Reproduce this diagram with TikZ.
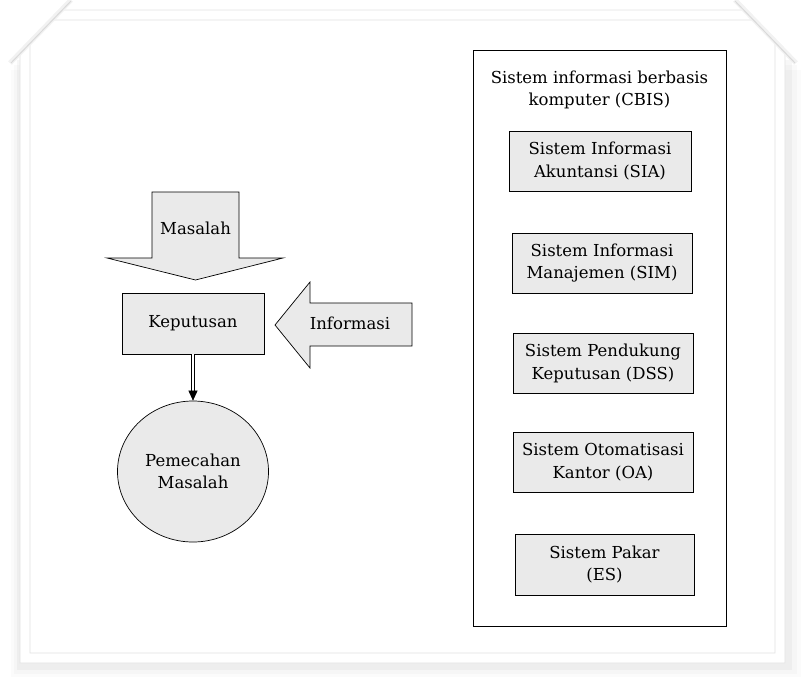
\documentclass[tikz,border=0pt]{standalone}
\usepackage{fontspec}
\setmainfont{DejaVu Serif}
\usetikzlibrary{arrows.meta, positioning, shapes.geometric}
\definecolor{boxgray}{HTML}{EAEAEA}
\definecolor{framegray}{HTML}{E2E2E2}
\tikzset{
	txt/.style={font=\fontsize{16.5}{22.5}\selectfont, align=center, inner sep=0pt},
	sysbox/.style={txt, draw, fill=boxgray, line width=0.8pt, minimum width=180pt, minimum height=60pt},
	bigarrow/.style={draw, fill=boxgray, line width=0.7pt, line join=miter},
}

\begin{document}
\begin{tikzpicture}[x=1pt,y=-1pt]
	\useasboundingbox (0,0) rectangle (806,678);
	% photo frame and its shadow
	\fill[black, opacity=0.015] (11,70) rectangle (801,677);
	\fill[black, opacity=0.02] (14,65) rectangle (797,674);
	\fill[black, opacity=0.03] (17,60) rectangle (792,670);
	\fill[white, draw=framegray, line width=0.8pt] (20,53) -- (63,10) -- (743,10) -- (785,52) -- (785,663) -- (20,663) -- cycle;
	\draw[framegray, line width=0.8pt] (30,43) -- (53,20) -- (753,20) -- (775,42) -- (775,653) -- (30,653) -- cycle;
	\draw[gray!10, line width=5pt] (71,0) -- (10,63);
	\draw[gray!30, line width=1pt] (71,1) -- (11,63);
	\draw[gray!10, line width=5pt] (735,0) -- (796,63);
	\draw[gray!30, line width=1pt] (735,1) -- (795,63);

	% left part
	\draw[bigarrow] (152,192) -- (239,192) -- (239,258) -- (283,258) -- (195.5,280) -- (107,258) -- (152,258) -- cycle;
	\node[txt] (mas) at (195.5,228) {Masalah};
	\draw[bigarrow] (275,325) -- (310,282) -- (310,303) -- (412,303) -- (412,346) -- (310,346) -- (310,368) -- cycle;
	\node[txt] (inf) at (350,323) {Informasi};
	\node[sysbox, minimum width=142pt, minimum height=61pt] (kep) at (193,323.5) {Keputusan};
	\node[txt, draw, fill=boxgray, ellipse, minimum width=151pt, minimum height=141pt, line width=0.7pt] (pem) at (193,471.5) {Pemecahan\\Masalah};
	\draw[double, double distance=2pt, line width=0.6pt, -{Triangle[length=10pt,width=9pt]}] (kep) -- (pem);

	% right part
	\node[draw, line width=1pt, minimum width=253pt, minimum height=576pt] (cbisbox) at (599.5,338) {};
	\node[txt] (cbis) at (599.5,90) {Sistem informasi berbasis\\komputer (CBIS)};
	\node[sysbox, minimum width=182pt] (sia) at (600,161) {Sistem Informasi\\Akuntansi (SIA)};
	\node[sysbox] (sim) at (602,263) {Sistem Informasi\\Manajemen (SIM)};
	\node[sysbox] (dss) at (603,363.5) {Sistem Pendukung\\Keputusan (DSS)};
	\node[sysbox] (oa) at (603,462) {Sistem Otomatisasi\\Kantor (OA)};
	\node[sysbox, minimum width=179pt, minimum height=61pt] (es) at (604.5,564.5) {Sistem Pakar\\(ES)};
\end{tikzpicture}
\end{document}
